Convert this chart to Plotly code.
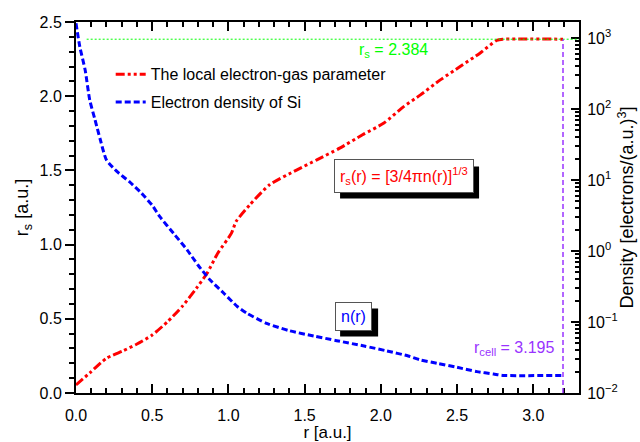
import plotly.graph_objects as go

# Local electron-gas parameter r_s(r) [a.u.]
r_rs = [0.0, 0.1, 0.2, 0.31, 0.4, 0.5, 0.6, 0.7, 0.79, 0.86, 0.93, 1.02, 1.05,
        1.14, 1.27, 1.45, 1.58, 1.73, 1.88, 2.02, 2.15, 2.26, 2.39, 2.52, 2.65,
        2.76, 2.8, 3.195]
rs_vals = [0.054, 0.144, 0.234, 0.285, 0.33, 0.391, 0.48, 0.587, 0.706, 0.807,
           0.942, 1.077, 1.155, 1.268, 1.403, 1.504, 1.571, 1.65, 1.74, 1.819,
           1.93, 2.009, 2.11, 2.2, 2.29, 2.376, 2.384, 2.384]

# Electron density of Si n(r) [electrons/(a.u.)^3]
r_n = [0.0, 0.025, 0.06, 0.09, 0.125, 0.16, 0.2, 0.27, 0.35, 0.43, 0.5, 0.55,
       0.64, 0.73, 0.8, 0.88, 0.97, 1.06, 1.12, 1.25, 1.4, 1.56, 1.71, 1.89,
       2.04, 2.18, 2.26, 2.37, 2.5, 2.63, 2.74, 2.8, 3.195]
n_vals = [1610, 753, 354, 134, 70.0, 36.6, 19.1, 13.1, 9.46, 6.50, 4.40, 3.04,
          1.77, 1.03, 0.635, 0.391, 0.254, 0.164, 0.133, 0.0959, 0.0753,
          0.0635, 0.0546, 0.0459, 0.0391, 0.0332, 0.0292, 0.0262, 0.0230,
          0.0200, 0.0185, 0.0177, 0.0177]

rs_bulk = 2.384
r_cell = 3.195

decades = [-2, -1, 0, 1, 2, 3]
density_ticks = [10.0 ** d for d in decades]
density_labels = ["10<sup>%s</sup>" % ("\u2212%d" % -d if d < 0 else "%d" % d) for d in decades]
density_minor = [m * 10.0 ** d for d in decades for m in range(2, 10)]

FONT = "Arial, Liberation Sans, sans-serif"
PURPLE = "#9933ff"
GREEN = "#00ff00"

fig = go.Figure()

fig.add_trace(go.Scatter(
    x=r_rs, y=rs_vals, mode="lines", name="The local electron-gas parameter",
    legendgroup="a",
    line=dict(color="#ff0000", width=3, dash="9px,3px,3px,3px,3px,3px",
              shape="spline", smoothing=0.6),
))
fig.add_trace(go.Scatter(
    x=r_n, y=n_vals, mode="lines", name="Electron density of Si",
    legendgroup="b", yaxis="y2",
    line=dict(color="#0000ff", width=3, dash="6px,3px",
              shape="spline", smoothing=0.6),
))

# Bulk r_s level and cell radius
fig.add_shape(type="line", x0=0.07, x1=3.3, y0=rs_bulk, y1=rs_bulk,
              xref="x", yref="y", line=dict(color=GREEN, width=1, dash="2px,2px"))
fig.add_shape(type="line", x0=r_cell, x1=r_cell, y0=0, y1=rs_bulk,
              xref="x", yref="y", line=dict(color=PURPLE, width=1.5, dash="5px,3px"))

fig.add_annotation(x=2.08, y=2.31, xref="x", yref="y", showarrow=False,
                   text="r<sub>s</sub> = %.3f" % rs_bulk,
                   font=dict(family=FONT, size=16, color=GREEN))
fig.add_annotation(x=3.155, y=0.30, xref="x", yref="y", showarrow=False,
                   xanchor="right",
                   text="r<sub>cell</sub> = %.3f" % r_cell,
                   font=dict(family=FONT, size=16, color=PURPLE))


# Boxed labels with a drop shadow (shadow sized in pixels around the box centre)
def boxed(x, y, text, color, half_w, half_h, offset=6):
    fig.add_shape(type="rect", xref="x", yref="y",
                  xsizemode="pixel", ysizemode="pixel", xanchor=x, yanchor=y,
                  x0=-half_w + offset, x1=half_w + offset,
                  y0=-half_h - offset, y1=half_h - offset,
                  fillcolor="black", line=dict(width=0))
    fig.add_annotation(
        x=x, y=y, xref="x", yref="y", showarrow=False, text=text,
        font=dict(family=FONT, size=16, color=color),
        bgcolor="white", bordercolor="#555555", borderwidth=1, borderpad=5,
    )


boxed(2.149, 1.459, "r<sub>s</sub>(r) = [3/4\u03c0n(r)]<sup>1/3</sup>", "#ff0000", 69.5, 16)
boxed(1.818, 0.515, "n(r)", "#0000ff", 19, 14)

axis_common = dict(showline=True, linewidth=2, linecolor="black", showgrid=False,
                   zeroline=False, tickwidth=2, tickcolor="black", automargin=False,
                   tickfont=dict(family=FONT, size=16, color="black"))

fig.update_layout(
    width=640, height=442,
    margin=dict(l=76, r=61, t=22, b=49),
    paper_bgcolor="white", plot_bgcolor="white",
    font=dict(family=FONT, size=16, color="black"),
    showlegend=True,
    legend=dict(x=0.069, y=0.905, xanchor="left", yanchor="top",
                bgcolor="rgba(0,0,0,0)", tracegroupgap=4,
                font=dict(family=FONT, size=16, color="black")),
    xaxis=dict(range=[0, 3.3], dtick=0.5, tick0=0, tickformat=".1f",
               ticks="inside", ticklen=9, mirror="ticks", ticklabelstandoff=7,
               minor=dict(dtick=0.1, ticklen=5, ticks="inside", tickwidth=2,
                          tickcolor="black"),
               title=dict(text="r [a.u.]", font=dict(family=FONT, size=17),
                          standoff=8),
               **axis_common),
    yaxis=dict(range=[0, 2.5], dtick=0.5, tick0=0, tickformat=".1f",
               ticks="outside", ticklen=9,
               minor=dict(dtick=0.1, ticklen=5, ticks="outside", tickwidth=2,
                          tickcolor="black"),
               title=dict(text="r<sub>s</sub> [a.u.]", font=dict(family=FONT, size=18),
                          standoff=6),
               **axis_common),
    yaxis2=dict(overlaying="y", side="right", type="log", range=[-2, 3.225],
                tickmode="array", tickvals=density_ticks, ticktext=density_labels,
                ticks="inside", ticklen=8, ticklabelstandoff=3,
                minor=dict(tickmode="array", tickvals=density_minor, ticklen=4,
                           ticks="inside", tickwidth=1.5, tickcolor="black"),
                title=dict(text="Density [electrons/(a.u.)<sup>3</sup>]",
                           font=dict(family=FONT, size=18), standoff=4),
                **axis_common),
)

fig.write_html("out.html")
